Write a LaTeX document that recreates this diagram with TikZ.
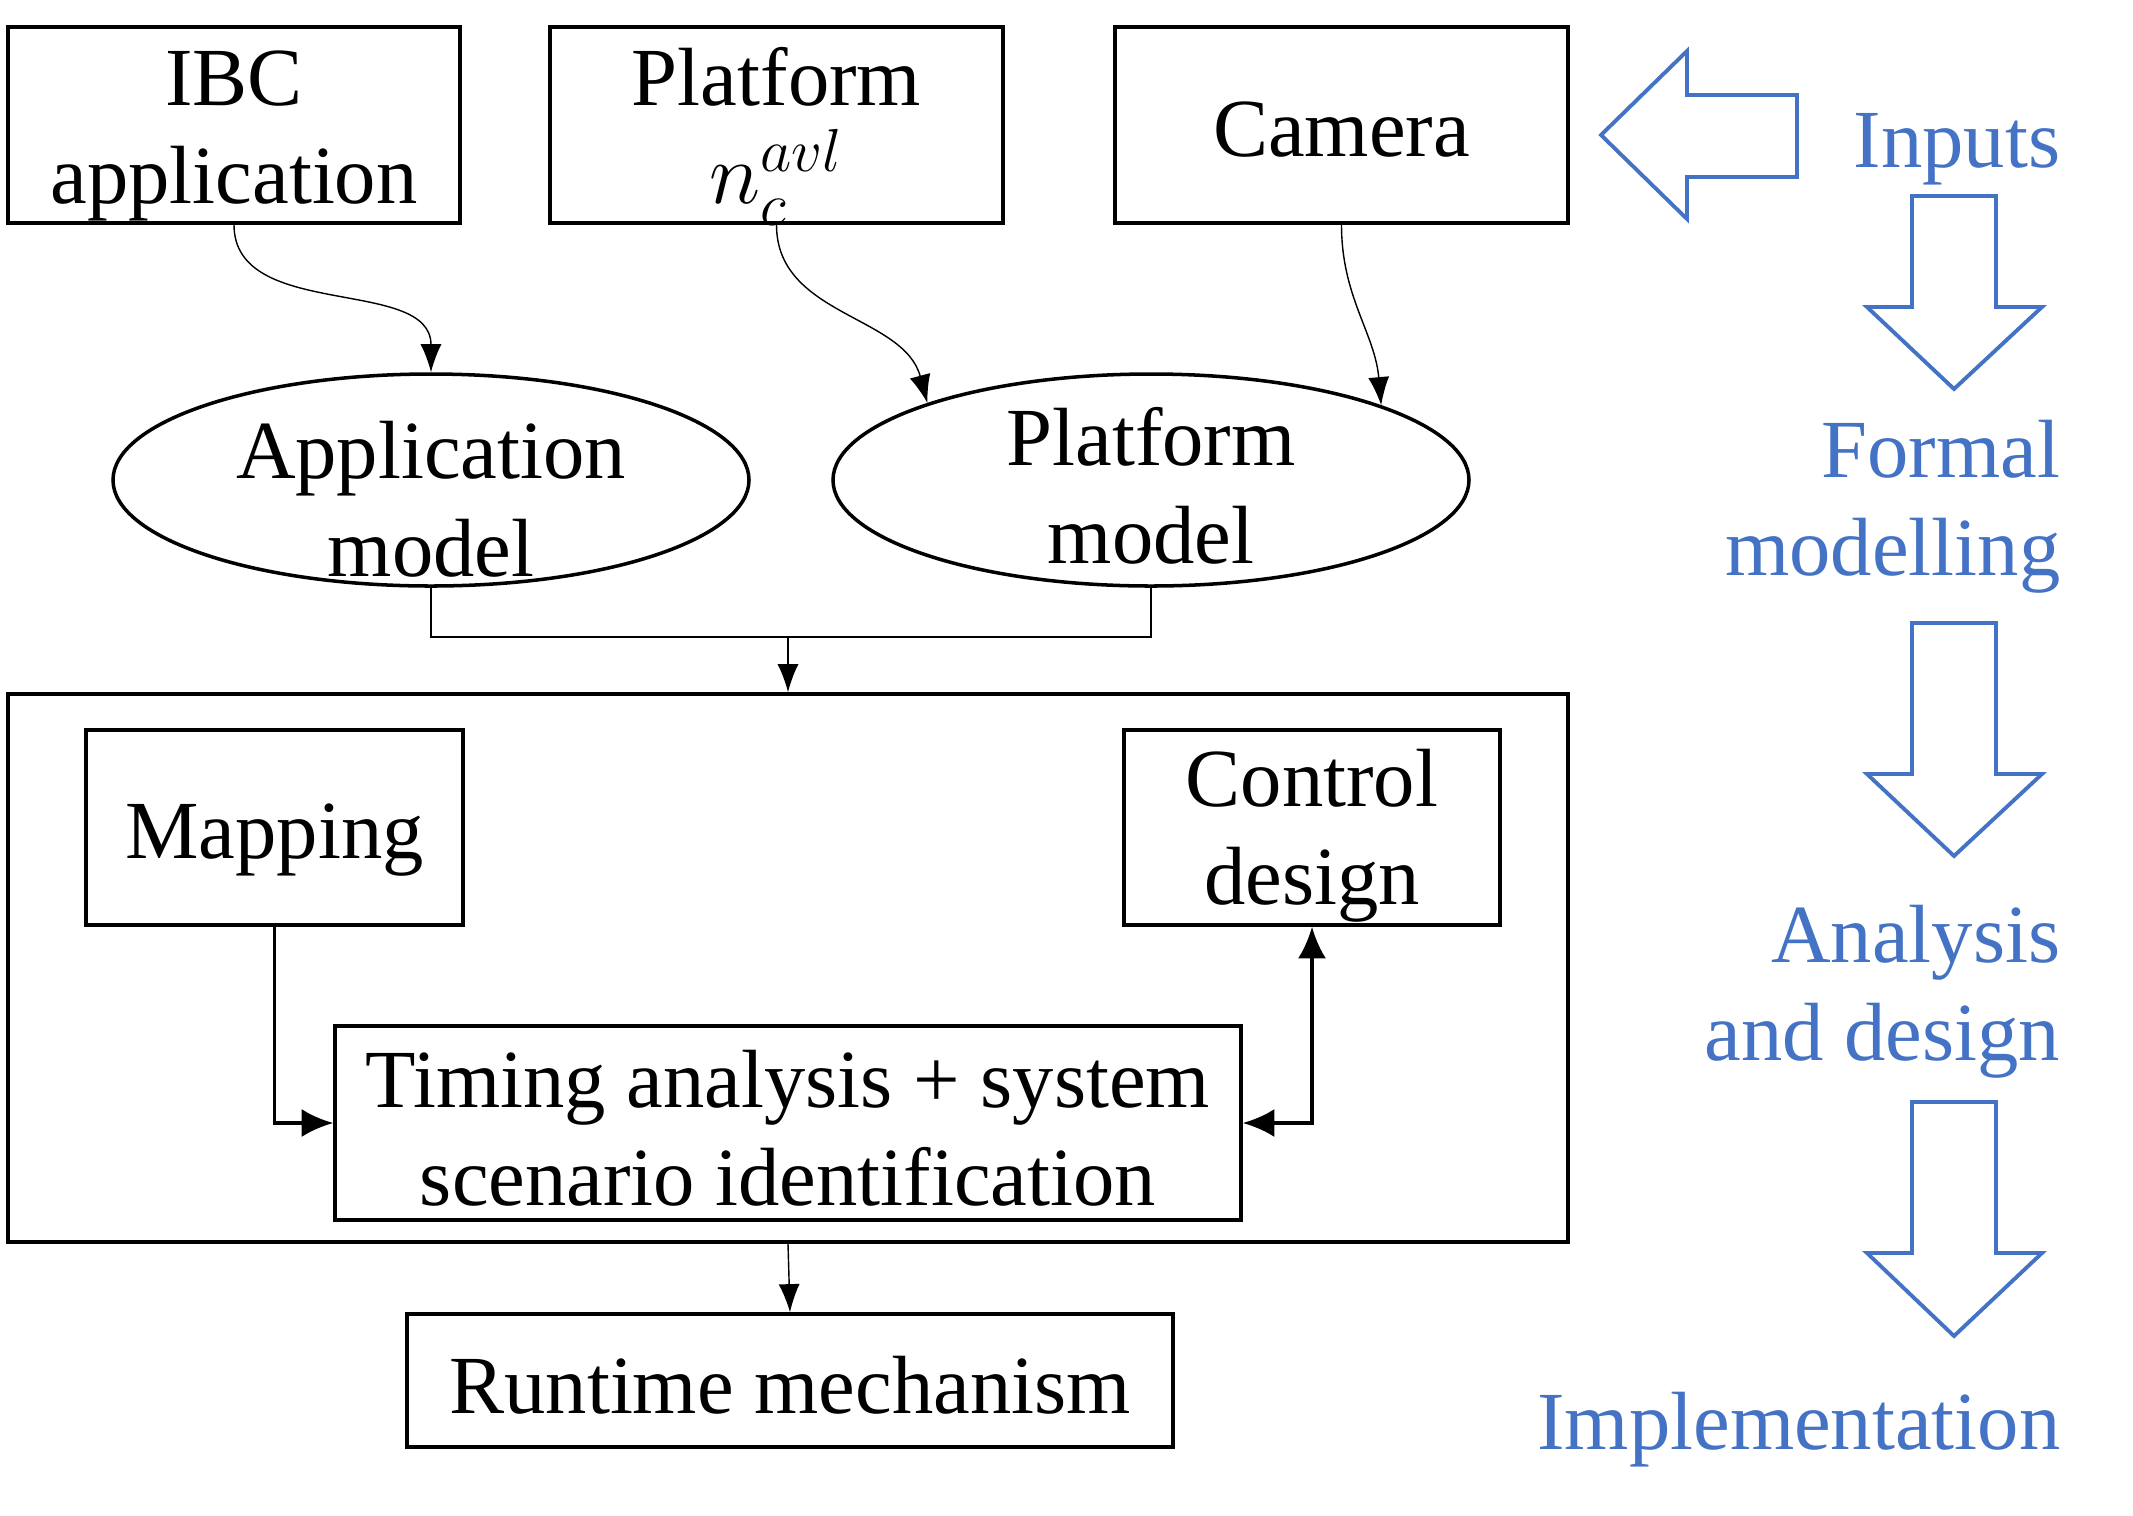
\documentclass[tikz,border=0pt]{standalone}
\usepackage{fontspec}
\setmainfont{Liberation Serif}
\usetikzlibrary{shapes.geometric,arrows.meta}
\definecolor{stageblue}{HTML}{4472C4}
\tikzset{
  box/.style={draw, line width=1pt},
  model/.style={draw, ellipse, line width=1pt, minimum width=6.36cm, minimum height=2.12cm},
  txt/.style={align=center, inner sep=0pt, font=\fontsize{23.5}{28}\selectfont},
  stage/.style={anchor=east, align=right, inner sep=0pt, text=stageblue, font=\fontsize{23.5}{28}\selectfont},
  bigarr/.style={draw=stageblue, line width=1.1pt, line join=miter},
  flow/.style={-{Latex[length=8pt,width=6pt]}, line width=0.4pt},
  link/.style={line width=1pt},
}
\begin{document}
\begin{tikzpicture}
		\useasboundingbox (0,0) rectangle (21.33,-15.15);

		\node[box, minimum width=4.52cm, minimum height=1.96cm] (ibc) at (2.34,-1.25) {};
		\node[box, minimum width=4.53cm, minimum height=1.96cm] (plat) at (7.765,-1.25) {};
		\node[box, minimum width=4.53cm, minimum height=1.96cm] (cam) at (13.415,-1.25) {};
		\node[txt] (ibclbl) at (2.34,-1.36) {IBC\\application};
		\node[txt] (platlbl) at (7.765,-1.36) {Platform\\$n_c^{avl}$};
		\node[txt] (camlbl) at (13.415,-1.30) {Camera};

		\node[model] (am) at (4.31,-4.80) {};
		\node[model] (pm) at (11.51,-4.80) {};
		\node[txt] (amlbl) at (4.31,-4.99) {Application\\model};
		\node[txt] (pmlbl) at (11.51,-4.86) {Platform\\model};

		\node[box, minimum width=15.6cm, minimum height=5.48cm] (sys) at (7.88,-9.68) {};
		\node[box, minimum width=3.77cm, minimum height=1.95cm] (map) at (2.745,-8.275) {};
		\node[box, minimum width=3.76cm, minimum height=1.95cm] (ctl) at (13.12,-8.275) {};
		\node[box, minimum width=9.06cm, minimum height=1.94cm] (tim) at (7.88,-11.23) {};
		\node[box, minimum width=7.66cm, minimum height=1.33cm] (run) at (7.90,-13.805) {};
		\node[txt] (maplbl) at (2.745,-8.40) {Mapping};
		\node[txt] (ctllbl) at (13.12,-8.36) {Control\\design};
		\node[txt] (timlbl) at (7.88,-11.28) {Timing analysis + system\\scenario identification};
		\node[txt] (runlbl) at (7.90,-13.85) {Runtime mechanism};

		\draw[flow] (ibc.south) to[out=-90,in=90] (am.north);
		\draw[flow] (plat.south) to[out=-90,in=105] (pm.161);
		\draw[flow] (cam.south) to[out=-90,in=95] (pm.18);

		\coordinate (mrg) at (7.88,-6.37);
		\draw[line width=0.4pt] (am.south) |- (mrg);
		\draw[line width=0.4pt] (pm.south) |- (mrg);
		\draw[flow] (mrg) -- (sys.north);
		\draw[flow] (sys.south) -- (run.north);

		\draw[link, -{Latex[length=9pt,width=8pt]}] (map.south) |- (tim.west);
		\draw[link, {Latex[length=9pt,width=8pt]}-{Latex[length=9pt,width=8pt]}] (tim.east) -| (ctl.south);

		% stages
		\draw[bigarr] (16.01,-1.35) -- (16.87,-0.51) -- (16.87,-0.95) -- (17.97,-0.95)
			-- (17.97,-1.77) -- (16.87,-1.77) -- (16.87,-2.19) -- cycle;
		\draw[bigarr] (19.12,-1.96) -- (19.96,-1.96) -- (19.96,-3.07) -- (20.42,-3.07)
			-- (19.54,-3.89) -- (18.67,-3.07) -- (19.12,-3.07) -- cycle;
		\draw[bigarr] (19.12,-6.23) -- (19.96,-6.23) -- (19.96,-7.74) -- (20.42,-7.74)
			-- (19.54,-8.56) -- (18.67,-7.74) -- (19.12,-7.74) -- cycle;
		\draw[bigarr] (19.12,-11.02) -- (19.96,-11.02) -- (19.96,-12.53) -- (20.42,-12.53)
			-- (19.54,-13.36) -- (18.67,-12.53) -- (19.12,-12.53) -- cycle;

		\node[stage] (inp) at (20.61,-1.49) {Inputs};
		\node[stage] (fm) at (20.61,-5.07) {Formal\\modelling};
		\node[stage] (ad) at (20.61,-9.92) {Analysis\\and design};
		\node[stage] (imp) at (20.61,-14.30) {Implementation};
	\end{tikzpicture}
\end{document}
